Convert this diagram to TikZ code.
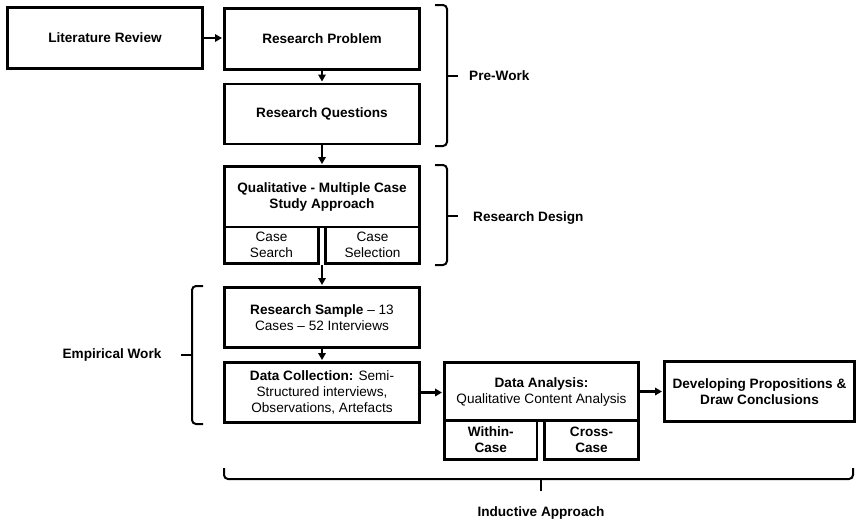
\documentclass[tikz,border=0pt]{standalone}
\usepackage{fontspec}
\setmainfont{Liberation Sans}
\usetikzlibrary{arrows.meta,calc}
\begin{document}
\begin{tikzpicture}[x=1pt,y=-1pt,
  txt/.style={font=\fontsize{13.6}{16}\selectfont, align=center, inner sep=0pt},
  box/.style={txt, draw, line width=2.6pt},
  arr/.style={line width=2.2pt, -{Triangle[length=7pt,width=7.5pt]}, shorten >=1.2pt},
  brace/.style={line width=2pt, rounded corners=4pt},
  stub/.style={line width=2.4pt}
]
\useasboundingbox (0,0) rectangle (856,522);

% main column of boxes
\node[box, minimum width=195pt, minimum height=61pt] (lit) at (105,38) {\textbf{Literature Review}};
\node[box, minimum width=195pt, minimum height=61pt] (prob) at (322,39) {\textbf{Research Problem}};
\node[box, minimum width=195pt, minimum height=60pt] (quest) at (322,114) {\textbf{Research Questions}};
\node[box, minimum width=195pt, minimum height=60.5pt] (qual) at (322,196.75) {\textbf{Qualitative - Multiple Case}\\\textbf{Study Approach}};
\node[box, minimum width=94pt, minimum height=36.5pt] (csearch) at (271.5,245.25) {Case\\Search};
\node[box, minimum width=94pt, minimum height=36.5pt] (cselect) at (372.5,245.25) {Case\\Selection};
\node[box, minimum width=195pt, minimum height=60pt] (sample) at (322,317.5) {\textbf{Research Sample} -- 13\\Cases -- 52 Interviews};
\node[box, minimum width=195pt, minimum height=60pt] (collect) at (322,392.5) {\textbf{Data Collection:} Semi-\\Structured interviews,\\Observations, Artefacts};

% analysis and conclusions
\node[box, minimum width=194pt, minimum height=58pt] (analysis) at (541.5,391.5) {\textbf{Data Analysis:}\\Qualitative Content Analysis};
\node[box, minimum width=92.5pt, minimum height=39pt] (within) at (490.75,440) {\textbf{Within-}\\\textbf{Case}};
\node[box, minimum width=94pt, minimum height=39pt] (cross) at (591.5,440) {\textbf{Cross-}\\\textbf{Case}};
\node[box, minimum width=190pt, minimum height=60pt] (concl) at (759.5,391.5) {\textbf{Developing Propositions \&}\\\textbf{Draw Conclusions}};

% connectors
\coordinate (gap) at ($(csearch.south east)!0.5!(cselect.south west)$);
\draw[arr] (lit.east) -- (lit.east -| prob.west);
\draw[arr] (prob) -- (quest);
\draw[arr] (quest) -- (qual);
\draw[arr] (gap) -- (gap |- sample.north);
\draw[arr] (sample) -- (collect);
\draw[arr] (collect.east) -- (collect.east -| analysis.west);
\draw[arr] (analysis) -- (concl);

% phase braces
\draw[brace] (435,5) -- (447,5) -- (447,146) -- (435,146);
\draw[stub] (447,76) -- (458,76);
\node[txt, anchor=west] (pre) at (469,76) {\textbf{Pre-Work}};

\draw[brace] (435,165) -- (447,165) -- (447,265) -- (435,265);
\draw[stub] (447,216) -- (458,216);
\node[txt, anchor=west] (design) at (473,218) {\textbf{Research Design}};

\draw[brace] (203,286) -- (192,286) -- (192,424) -- (203,424);
\draw[stub] (192,355) -- (181,355);
\node[txt] (empirical) at (112,355) {\textbf{Empirical Work}};

\draw[brace] (224,468) -- (224,479) -- (853,479) -- (853,468);
\draw[stub] (541,479) -- (541,491);
\node[txt] (inductive) at (541,513) {\textbf{Inductive Approach}};
\end{tikzpicture}
\end{document}
